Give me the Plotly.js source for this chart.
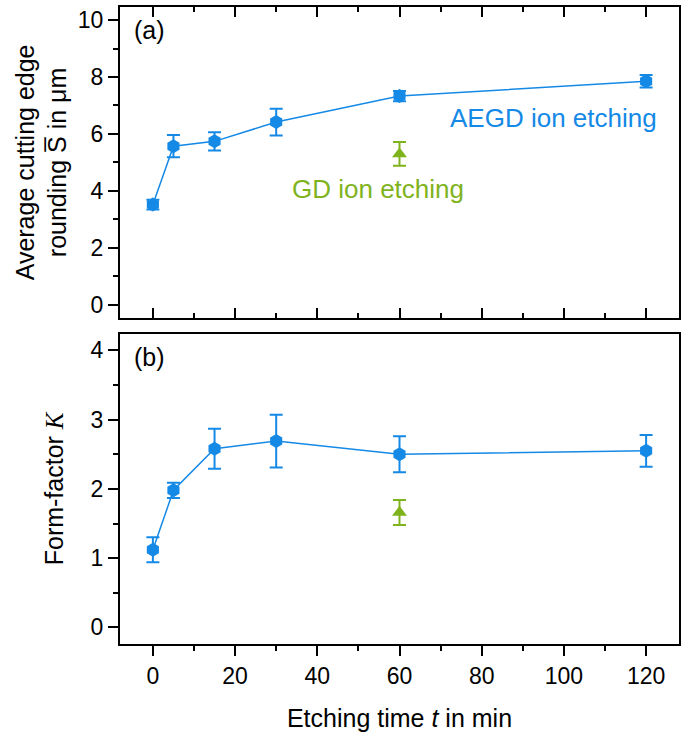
<!DOCTYPE html>
<html>
<head>
<meta charset="utf-8">
<script src="https://cdn.plot.ly/plotly-3.0.1.min.js"></script>
<style>html,body{margin:0;padding:0;background:#fff;}#chart{width:689px;height:736px;}</style>
</head>
<body>
<div id="chart"></div>
<script>
// ---- data ----
const etchTime = [0, 5, 15, 30, 60, 120];
const aegdRounding = [3.52, 5.57, 5.74, 6.42, 7.33, 7.85];
const aegdRoundingErr = [0.17, 0.39, 0.32, 0.47, 0.18, 0.22];
const aegdFormFactor = [1.12, 1.98, 2.58, 2.69, 2.50, 2.55];
const aegdFormFactorErr = [0.18, 0.11, 0.29, 0.38, 0.26, 0.23];
const gdTime = [60];
const gdRounding = [5.30];
const gdRoundingErr = [0.42];
const gdFormFactor = [1.66];
const gdFormFactorErr = [0.18];
const xTicks = [0, 20, 40, 60, 80, 100, 120];

const BLUE = '#1589e6';
const GREEN = '#7fb31d';
const FONT = 'Liberation Sans, Arial, sans-serif';

function aegd(y, err, xa, ya) {
  return {
    x: etchTime, y: y, xaxis: xa, yaxis: ya, type: 'scatter', mode: 'lines+markers',
    line: {color: BLUE, width: 1.5},
    marker: {symbol: 'hexagon', size: 14, color: BLUE},
    error_y: {type: 'data', array: err, visible: true, color: BLUE, thickness: 2, width: 6.5},
    showlegend: false, hoverinfo: 'skip'
  };
}
function gd(y, err, xa, ya) {
  return {
    x: gdTime, y: y, xaxis: xa, yaxis: ya, type: 'scatter', mode: 'markers',
    marker: {symbol: 'triangle-up', size: 13, color: GREEN},
    error_y: {type: 'data', array: err, visible: true, color: GREEN, thickness: 2, width: 6.5},
    showlegend: false, hoverinfo: 'skip'
  };
}

const data = [
  aegd(aegdRounding, aegdRoundingErr, 'x', 'y'),
  gd(gdRounding, gdRoundingErr, 'x', 'y'),
  aegd(aegdFormFactor, aegdFormFactorErr, 'x2', 'y2'),
  gd(gdFormFactor, gdFormFactorErr, 'x2', 'y2')
];

const XR = [-8, 128];
const tickFont = {family: FONT, size: 23, color: '#000'};
const titleFont = {family: FONT, size: 25, color: '#000'};
const base = {
  showgrid: false, zeroline: false, showline: true, linewidth: 2, linecolor: '#000',
  ticklen: 10, tickwidth: 2, tickcolor: '#000', tickfont: tickFont, fixedrange: true
};

const layout = {
  width: 689, height: 736,
  margin: {l: 120, r: 10, t: 7, b: 92},
  paper_bgcolor: '#fff', plot_bgcolor: '#fff',
  font: {family: FONT, color: '#000'},
  xaxis: Object.assign({}, base, {
    domain: [0, 1], anchor: 'y', range: XR, tickmode: 'array', tickvals: xTicks,
    ticks: 'inside', mirror: 'ticks', showticklabels: false,
    minor: {dtick: 10, tick0: 0, ticks: 'inside', ticklen: 5, tickwidth: 2, tickcolor: '#000'}
  }),
  yaxis: Object.assign({}, base, {
    domain: [0.512, 1], anchor: 'x', range: [-0.46, 10.46], dtick: 2, tick0: 0,
    ticks: 'outside', mirror: true,
    minor: {dtick: 1, tick0: 0, ticks: 'outside', ticklen: 5, tickwidth: 2, tickcolor: '#000'},
    title: {text: 'Average cutting edge<br>rounding S\u0305 in \u03bcm', font: titleFont, standoff: 4}
  }),
  yaxis3: Object.assign({}, base, {
    overlaying: 'y', side: 'right', anchor: 'x', range: [-0.46, 10.46], dtick: 2, tick0: 0,
    ticks: 'inside', showticklabels: false, showline: false,
    minor: {dtick: 1, tick0: 0, ticks: 'inside', ticklen: 5, tickwidth: 2, tickcolor: '#000'}
  }),
  xaxis2: Object.assign({}, base, {
    domain: [0, 1], anchor: 'y2', range: XR, tickmode: 'array', tickvals: xTicks,
    ticks: 'outside', mirror: true,
    minor: {dtick: 10, tick0: 0, ticks: 'outside', ticklen: 5, tickwidth: 2, tickcolor: '#000'},
    title: {text: 'Etching time <i>t</i> in min', font: titleFont, standoff: 22}
  }),
  xaxis3: Object.assign({}, base, {
    overlaying: 'x2', side: 'top', anchor: 'y2', range: XR, tickmode: 'array', tickvals: xTicks,
    ticks: 'inside', showticklabels: false, showline: false,
    minor: {dtick: 10, tick0: 0, ticks: 'inside', ticklen: 5, tickwidth: 2, tickcolor: '#000'}
  }),
  yaxis2: Object.assign({}, base, {
    domain: [0, 0.487], anchor: 'x2', range: [-0.24, 4.24], dtick: 1, tick0: 0,
    ticks: 'outside', mirror: true,
    minor: {dtick: 0.5, tick0: 0, ticks: 'outside', ticklen: 5, tickwidth: 2, tickcolor: '#000'},
    title: {text: 'Form-factor <span style="font-family:Liberation Serif"><i>K</i></span>', font: titleFont, standoff: 20}
  }),
  yaxis4: Object.assign({}, base, {
    overlaying: 'y2', side: 'right', anchor: 'x2', range: [-0.24, 4.24], dtick: 1, tick0: 0,
    ticks: 'inside', showticklabels: false, showline: false,
    minor: {dtick: 0.5, tick0: 0, ticks: 'inside', ticklen: 5, tickwidth: 2, tickcolor: '#000'}
  }),
  annotations: [
    {text: '(a)', xref: 'x domain', yref: 'y domain', x: 0.022, y: 0.925, xanchor: 'left', yanchor: 'middle', showarrow: false, font: {family: FONT, size: 25, color: '#000'}},
    {text: '(b)', xref: 'x2 domain', yref: 'y2 domain', x: 0.022, y: 0.925, xanchor: 'left', yanchor: 'middle', showarrow: false, font: {family: FONT, size: 25, color: '#000'}},
    {text: 'AEGD ion etching', xref: 'x', yref: 'y', x: 97.4, y: 6.55, xanchor: 'center', yanchor: 'middle', showarrow: false, font: {family: FONT, size: 26, color: BLUE}},
    {text: 'GD ion etching', xref: 'x', yref: 'y', x: 54.7, y: 4.08, xanchor: 'center', yanchor: 'middle', showarrow: false, font: {family: FONT, size: 26, color: GREEN}}
  ]
};

Plotly.newPlot('chart', data, layout, {staticPlot: true, displayModeBar: false});
</script>
</body>
</html>
